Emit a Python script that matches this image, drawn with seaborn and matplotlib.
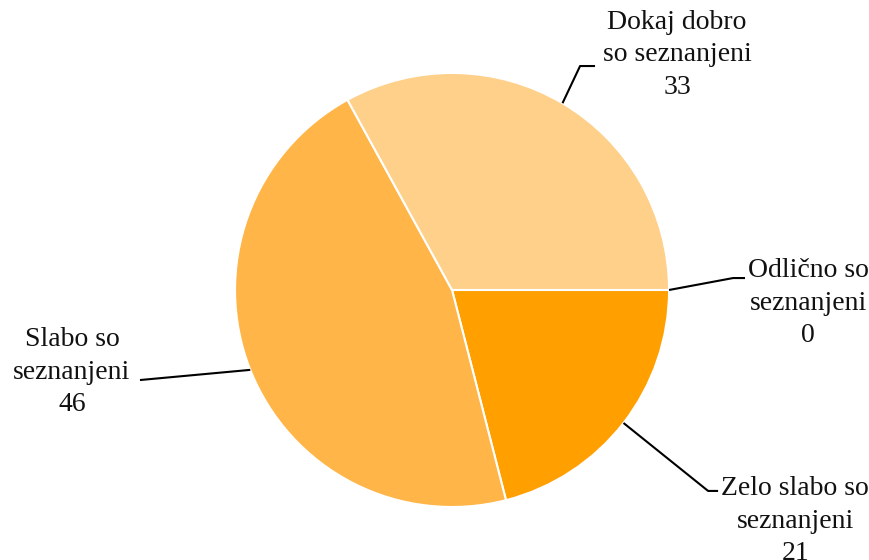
import numpy as np
import matplotlib.pyplot as plt
import seaborn as sns

sns.set_theme(style="white")
plt.rcParams['font.family'] = ['Liberation Serif', 'DejaVu Serif']

labels = ["Odlično so\nseznanjeni", "Zelo slabo so\nseznanjeni", "Slabo so\nseznanjeni", "Dokaj dobro\nso seznanjeni"]
values = [0, 21, 46, 33]
colors = ["#E08600", "#FF9F00", "#FFB547", "#FED08A"]

# label text centre and elbow of leader line (pie radius = 1)
text_pos = [(1.641, -0.06), (1.581, -1.065), (-1.751, -0.378), (1.037, 1.083)]
elbows = [[(1.295, 0.055), (1.35, 0.055)],
          [(1.18, -0.926), (1.226, -0.926)],
          [(-1.438, -0.415)],
          [(0.59, 1.032), (0.659, 1.032)]]

fig = plt.figure(figsize=(8.7, 5.6), dpi=100)
ax = fig.add_axes([0, 0, 1, 1])
wedges, _ = ax.pie(values, colors=colors, startangle=0, counterclock=False, radius=1,
                   wedgeprops=dict(edgecolor="white", linewidth=1.5))
ax.set_xlim(-2.083, 1.926)
ax.set_ylim(-1.244, 1.336)
ax.set_aspect("equal")
ax.axis("off")

for w, lab, val, tp, el in zip(wedges, labels, values, text_pos, elbows):
    mid = np.deg2rad((w.theta1 + w.theta2) / 2)
    pts = [(np.cos(mid), np.sin(mid))] + el
    xs, ys = zip(*pts)
    ax.plot(xs, ys, color="black", lw=1.5, solid_capstyle="butt")
    ax.text(tp[0], tp[1], f"{lab}\n{val}", ha="center", va="center",
            fontsize=20, linespacing=1.38, color="#111111")

plt.savefig("out.png", dpi=100)
